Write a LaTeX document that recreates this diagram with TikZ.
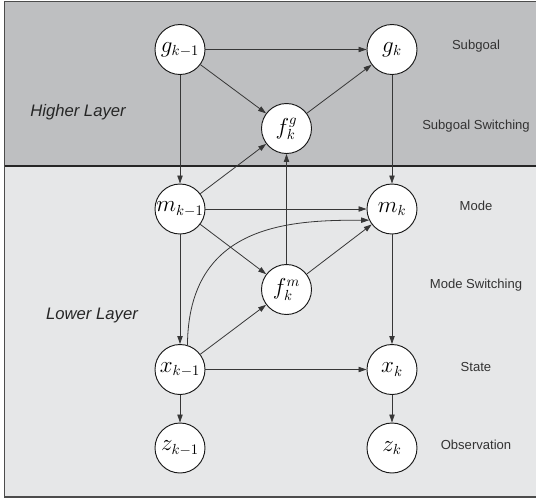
\documentclass[tikz,border=0pt]{standalone}
\usepackage{fontspec}
\setmainfont{Liberation Sans}
\usetikzlibrary{arrows.meta}

\definecolor{highgray}{RGB}{190,191,193}
\definecolor{lowgray}{RGB}{230,231,232}
\definecolor{edgegray}{RGB}{55,55,55}

\tikzset{
  var/.style={circle,draw=black!90,fill=white,line width=0.7pt,minimum size=37.5pt,inner sep=0pt,font=\fontsize{16}{18}\selectfont},
  dep/.style={draw=edgegray,line width=0.6pt,-{Triangle[length=6pt,width=4pt]}},
  rowlabel/.style={font=\fontsize{9.8}{12}\selectfont,text=black!80},
  layer/.style={font=\fontsize{12.5}{15}\selectfont\itshape,text=black!85}
}

\begin{document}
\begin{tikzpicture}[x=0.75pt,y=-0.75pt]
 % Layers
    \useasboundingbox (0,0) rectangle (536,501);
    \fill[highgray] (4.5,1.5) rectangle (545,166);
    \fill[lowgray] (4.5,166) rectangle (545,497);
    \draw[black!70,line width=1.4pt] (545,1.5) -- (4.5,1.5) -- (4.5,497) -- (545,497);
    \draw[black!85,line width=1pt] (4.5,166) -- (545,166);

    \node[layer] (higher) at (78,112) {Higher Layer};
    \node[layer] (lower) at (92,315) {Lower Layer};

 % Variables
    \node[var] (gp) at (180,49.5) {$g_{k-1}$};
    \node[var] (gk) at (392,49.5) {$g_k$};
    \node[var] (fg) at (286.5,128.5) {$f_k^g$};
    \node[var] (mp) at (180,209) {$m_{k-1}$};
    \node[var] (mk) at (392,209) {$m_k$};
    \node[var] (fm) at (286.5,289.5) {$f_k^m$};
    \node[var] (xp) at (180,369.5) {$x_{k-1}$};
    \node[var] (xk) at (392,369.5) {$x_k$};
    \node[var] (zp) at (180,448) {$z_{k-1}$};
    \node[var] (zk) at (392,448) {$z_k$};

 % Row labels
    \node[rowlabel] (lsub) at (476,46) {Subgoal};
    \node[rowlabel] (lsubsw) at (476,126) {Subgoal Switching};
    \node[rowlabel] (lmode) at (476,206) {Mode};
    \node[rowlabel] (lmodesw) at (476,285) {Mode Switching};
    \node[rowlabel] (lstate) at (476,367) {State};
    \node[rowlabel] (lobs) at (476,445) {Observation};

 % Dependencies
    \draw[dep] (gp) -- (gk);
    \draw[dep] (gp) -- (fg);
    \draw[dep] (fg) -- (gk);
    \draw[dep] (gp) -- (mp);
    \draw[dep] (gk) -- (mk);
    \draw[dep] (mp) -- (fg);
    \draw[dep] (mp) -- (mk);
    \draw[dep] (mp) -- (fm);
    \draw[dep] (mp) -- (xp);
    \draw[dep] (fm) -- (fg);
    \draw[dep] (fm) -- (mk);
    \draw[dep] (xp) -- (fm);
    \draw[dep] (xp.73) .. controls +(1,-122) and +(-78,0) .. (mk.206);
    \draw[dep] (xp) -- (xk);
    \draw[dep] (mk) -- (xk);
    \draw[dep] (xp) -- (zp);
    \draw[dep] (xk) -- (zk);
\end{tikzpicture}
\end{document}
